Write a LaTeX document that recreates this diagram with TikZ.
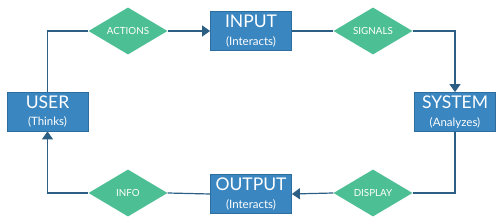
\documentclass[tikz,border=0pt]{standalone}
\usepackage{fontspec}
\setmainfont{Lato}
\usetikzlibrary{shapes.geometric,arrows.meta}
\definecolor{boxblue}{HTML}{3A86C0}
\definecolor{boxedge}{HTML}{2E6E9E}
\definecolor{dgreen}{HTML}{4DBF94}
\definecolor{linec}{HTML}{2D5F85}
\tikzset{
  bx/.style={draw=boxedge, line width=0.8pt, fill=boxblue, text=white, minimum width=81pt, minimum height=39pt, inner sep=0pt, align=center, font=\fontsize{17.5}{17.5}\selectfont},
  dm/.style={diamond, fill=dgreen, text=white, minimum width=79pt, minimum height=47pt, inner sep=0pt, aspect=1.68, font=\fontsize{9.8}{9.8}\selectfont},
  ln/.style={draw=linec, line width=1.2pt},
  arr/.style={ln, -{Triangle[length=8pt,width=11pt]}}
}
\newcommand{\sublab}[1]{\\[0pt]{\fontsize{11.5}{11.5}\selectfont #1}}
\begin{document}
\begin{tikzpicture}[x=1pt,y=-1pt]
\useasboundingbox (0,0) rectangle (500,224);
\node[bx] (user) at (47.5,111.5) {USER\sublab{(Thinks)}};
\node[bx] (input) at (251,31) {INPUT\sublab{(Interacts)}};
\node[bx] (system) at (455,112) {SYSTEM\sublab{(Analyzes)}};
\node[bx] (output) at (251,194) {OUTPUT\sublab{(Interacts)}};
\node[dm] (actions) at (128,31) {ACTIONS};
\node[dm] (signals) at (373,31) {SIGNALS};
\node[dm] (display) at (373,193) {DISPLAY};
\node[dm] (info) at (128,193) {INFO};
\draw[ln] (user.north) |- (actions.west);
\draw[arr] (actions.east) -- (input.west);
\draw[ln] (input.east) -- (signals.west);
\draw[arr] (signals.east) -| (system.north);
\draw[ln] (system.south) |- (display.east);
\draw[arr] (display.west) -- (output.east);
\draw[ln] (output.west) -- (info.east);
\draw[arr] (info.west) -| (user.south);
\end{tikzpicture}
\end{document}
